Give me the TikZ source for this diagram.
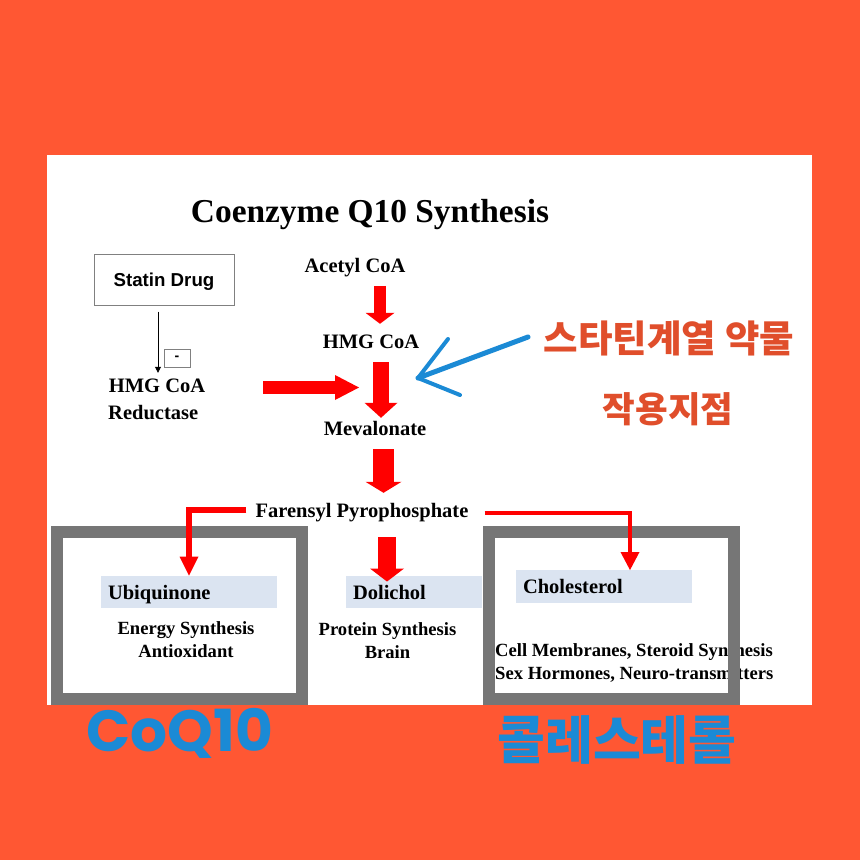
\documentclass[tikz,border=0pt]{standalone}
\usepackage{fontspec}
\setmainfont{Liberation Serif}
\newfontfamily\arialfont{Liberation Sans}
\newfontfamily\krfont{Noto Sans CJK KR}
\newfontfamily\roundfont{Poppins}
\usetikzlibrary{arrows.meta}
\definecolor{bgorange}{HTML}{FF5733}
\definecolor{pathred}{HTML}{FF0000}
\definecolor{framegray}{HTML}{767676}
\definecolor{namefill}{HTML}{DBE4F1}
\definecolor{penblue}{HTML}{1B8AD5}
\definecolor{inkorange}{HTML}{E04E2B}

\begin{document}
\begin{tikzpicture}[x=1pt, y=-1pt, every node/.style={inner sep=0pt},
    mol/.style={font=\fontsize{20.5}{24}\selectfont\bfseries, text height=14pt, text depth=5pt, anchor=base},
    note/.style={font=\fontsize{18.6}{22.5}\selectfont\bfseries, anchor=base},
    namebox/.style={mol, fill=namefill, text depth=0pt, minimum height=32.5pt, inner xsep=7pt,
      align=left, anchor=center},
    drugbox/.style={draw=gray, line width=1pt, minimum width=140pt, minimum height=51pt,
      font=\arialfont\bfseries\fontsize{18.7}{22}\selectfont, text height=13.4pt, text depth=0pt},
    fatarrow/.style n args={3}{draw=pathred, line width=#1,
      -{Triangle[line width=0pt, width=#2, length=#3]}},
    frame/.style={draw=framegray, line width=12pt},
    pen/.style={draw=penblue, line width=5pt, line cap=round, line join=round},
    ink/.style={text=inkorange, font=\krfont\bfseries\fontsize{#1}{#1}\selectfont},
    bluetag/.style={text=penblue, font=#1}]
  \useasboundingbox (0,0) rectangle (860,860);
  \fill[bgorange] (0,0) rectangle (860,860);
  \fill[white] (47,155) rectangle (812,705);

  \node[font=\fontsize{33.4}{38}\selectfont\bfseries, anchor=base] (title) at (370,222) {Coenzyme Q10 Synthesis};
  \node[drugbox] (statin) at (164,279.5) {Statin Drug};
  \node[draw=gray, line width=0.8pt, minimum width=26pt, minimum height=18pt,
    font=\arialfont\bfseries\fontsize{14}{14}\selectfont] (minus) at (177,358) {-};
  \node[mol] (hmgred) at (157,392) {HMG CoA};
  \node[mol, anchor=base west] (reductase) at (108,419) {Reductase};
  \coordinate (inhibit) at (359,387.5);

  \node[mol] (acetyl) at (355,272.7) {Acetyl CoA};
  \node[mol] (hmg) at (371,348) {HMG CoA};
  \node[mol] (meva) at (375,435) {Mevalonate};
  \node[mol] (farensyl) at (362,517) {Farensyl Pyrophosphate};

  \node[namebox, text width=162pt] (ubiq) at (189,592) {Ubiquinone};
  \node[namebox, text width=122pt] (dolichol) at (414,592) {Dolichol};
  \node[namebox, text width=162pt] (chol) at (604,586.5) {Cholesterol};
  \node[note, align=center] (ubiqnote) at (186,657) {Energy Synthesis\\Antioxidant};
  \node[note, align=center] (dolinote) at (387.5,658) {Protein Synthesis\\Brain};
  \node[note, align=left, anchor=base west] (cholnote) at (495,679)
    {Cell Membranes, Steroid Synthesis\\Sex Hormones, Neuro-transmitters};

  \draw[frame] (57,532) rectangle (302,699);
  \draw[frame] (489,532) rectangle (734,699);

  \draw[line width=0.8pt, -{Triangle[width=6pt, length=6pt]}, shorten <=6pt, shorten >=5pt]
    ([xshift=-6pt]statin.south) -- ([xshift=1pt]hmgred.north);
  \draw[fatarrow={13pt}{25pt}{24pt}, shorten <=58pt] (hmgred.east) -- (inhibit);
  \draw[fatarrow={12pt}{29pt}{11pt}, shorten <=8pt, shorten >=10pt]
    ([xshift=25pt]acetyl.south) -- ([xshift=9pt]hmg.north);
  \draw[fatarrow={16pt}{33pt}{15pt}, shorten <=9pt, shorten >=3pt]
    ([xshift=10pt]hmg.south) -- ([xshift=6pt]meva.north);
  \draw[fatarrow={21pt}{36pt}{11pt}, shorten <=9pt, shorten >=10pt]
    ([xshift=8.5pt]meva.south) -- ([xshift=21.5pt]farensyl.north);
  \draw[fatarrow={18pt}{34pt}{13pt}, shorten <=15pt, shorten >=-6pt]
    ([xshift=25pt]farensyl.south) -- ([xshift=-27pt]dolichol.north);
  \draw[fatarrow={6.5pt}{19pt}{19pt}, shorten <=9pt] ([yshift=2.5pt]farensyl.west) -| (ubiq.north);
  \draw[fatarrow={4pt}{19pt}{18pt}, shorten <=16pt] (farensyl.east) -| ([xshift=26pt]chol.north);

  \node[ink=37.5] (sitelabel) at (669,338) {스타틴계열 약물};
  \node[ink=35.5] (sitelabel2) at (668,409) {작용지점};
  \coordinate (penstart) at (528,337);
  \coordinate (pentip) at (418,378);
  \coordinate (barbup) at (448,339);
  \coordinate (barbdown) at (460,395);
  \draw[pen] (penstart) -- (pentip);
  \draw[pen, line width=4pt] (barbup) -- (pentip) -- (barbdown);

  \node[bluetag=\roundfont\bfseries\fontsize{58}{58}\selectfont] (coqlabel) at (180,733) {CoQ10};
  \node[bluetag=\krfont\bfseries\fontsize{52}{52}\selectfont] (cholkr) at (617,740) {콜레스테롤};
\end{tikzpicture}
\end{document}
